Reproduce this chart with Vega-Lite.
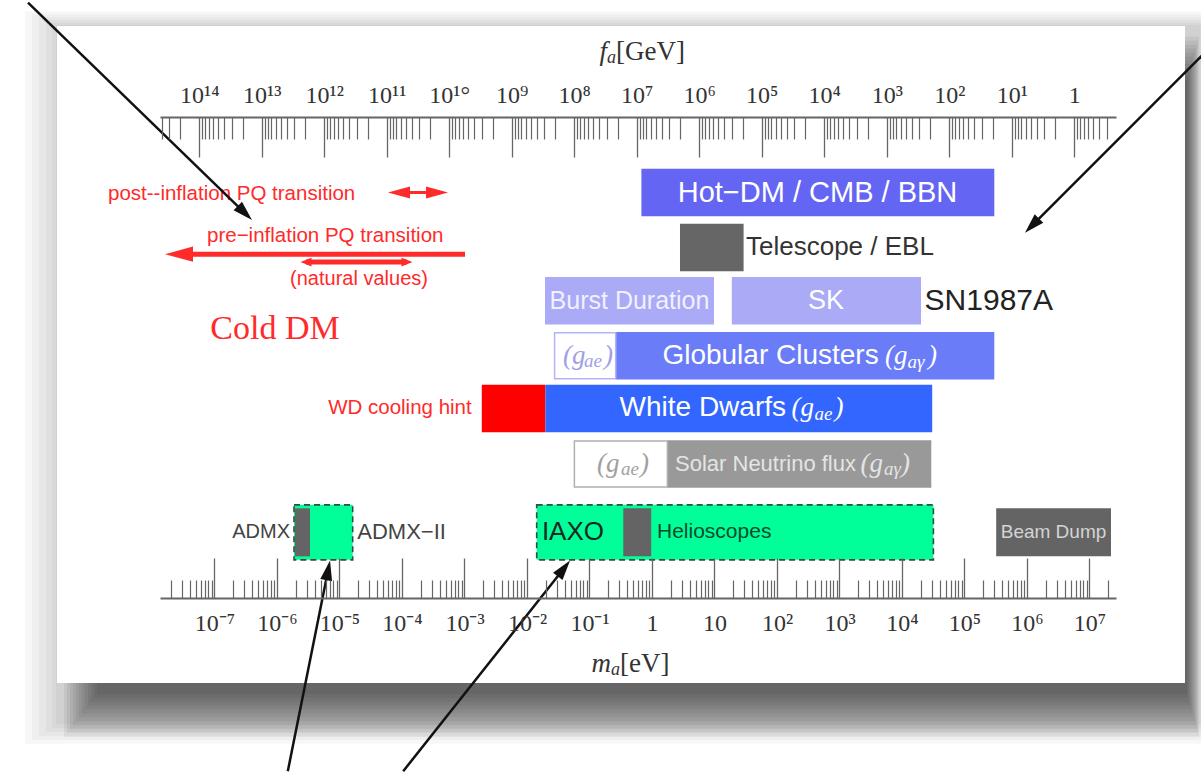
{
"$schema":"https://vega.github.io/schema/vega-lite/v6.json",
"width":956,"height":481,
"autosize":{"type":"none"},
"padding":{"left":160,"top":117,"right":85,"bottom":174},
"background":"#ffffff",
"config":{"view":{"stroke":null},"axis":{"grid":false}},
"resolve":{"axis":{"x":"independent","y":"independent"}},
"encoding":{
 "x":{"field":"m","type":"quantitative","scale":{"type":"log","domain":[1.343e-8,2.655e7],"nice":false},"axis":null},
 "y":{"field":"u","type":"quantitative","scale":{"type":"linear","domain":[-0.309,8.436],"nice":false,"zero":false,"reverse":true},"axis":null}
},
"layer":[
{"data":{"values":[
 {"m":9.29e-11,"m2":6.081e8,"u":-2.364,"u2":11.236},
 {"m":1.202e-10,"m2":6.081e8,"u":-2.309,"u2":11.164},
 {"m":1.556e-10,"m2":6.081e8,"u":-2.255,"u2":11.091},
 {"m":2.014e-10,"m2":6.081e8,"u":-2.2,"u2":11.018},
 {"m":2.512e-10,"m2":6.081e8,"u":-2.145,"u2":10.945},
 {"m":2.911e-10,"m2":6.081e8,"u":-2.109,"u2":10.873}
 ]},
 "mark":{"type":"rect","fill":"#000000","fillOpacity":0.03,"clip":false},
 "encoding":{
  "x":{"field":"m","type":"quantitative","scale":{"type":"log","domain":[1.343e-8,2.655e7],"nice":false},
   "axis":{"orient":"bottom","values":[1e-7,1e-6,1e-5,1e-4,0.001,0.01,0.1,1,10,100,1000,10000,100000,1000000,10000000],
    "ticks":false,"domain":true,"domainColor":"#666666","domainWidth":2,
    "labelExpr":"datum.value == 1 ? '1' : datum.value == 10 ? '10' : '10' + (datum.value < 1 ? '⁻' : '') + ['°','¹','²','³','⁴','⁵','⁶','⁷','⁸','⁹'][abs(round(log(datum.value) / LN10))]",
    "labelFont":"Liberation Serif","labelFontSize":24,"labelColor":"#333333","labelPadding":13,
    "labelOverlap":false,"labelFlush":false,"labelBound":false,"title":null,"zindex":1}},
  "x2":{"field":"m2"},"y2":{"field":"u2"}}
},
{"data":{"values":[
 {"m":3.908e-10,"m2":5.649e8,"u":-1.891,"u2":11.109},
 {"m":4.365e-10,"m2":5.445e8,"u":-1.818,"u2":11.036},
 {"m":4.875e-10,"m2":5.248e8,"u":-1.745,"u2":10.964},
 {"m":5.445e-10,"m2":5.058e8,"u":-1.673,"u2":10.891},
 {"m":6.081e-10,"m2":4.875e8,"u":-1.6,"u2":10.818},
 {"m":6.792e-10,"m2":4.613e8,"u":-1.527,"u2":10.745},
 {"m":7.586e-10,"m2":4.43e8,"u":-1.455,"u2":10.673},
 {"m":8.472e-10,"m2":4.254e8,"u":-1.382,"u2":10.6},
 {"m":9.462e-10,"m2":4.085e8,"u":-1.309,"u2":10.527},
 {"m":1.057e-9,"m2":3.923e8,"u":-1.236,"u2":10.455},
 {"m":1.18e-9,"m2":3.767e8,"u":-1.164,"u2":10.382},
 {"m":1.318e-9,"m2":3.631e8,"u":-1.091,"u2":10.309}
 ]},
 "mark":{"type":"rect","fill":"#000000","fillOpacity":0.055,"clip":false},
 "encoding":{"x2":{"field":"m2"},"y2":{"field":"u2"}}
},
{"data":{"values":[{"m":3.02e-10,"m2":3.373e8,"u":-2.091,"u2":10.109}]},
 "mark":{"type":"rect","fill":"#ffffff","clip":false},
 "encoding":{
  "x":{"field":"m","type":"quantitative","scale":{"type":"log","domain":[1.343e-8,2.655e7],"nice":false},
   "axis":{"orient":"top","values":[5.7e6,5.7e5,5.7e4,5700,570,57,5.7,0.57,0.057,5.7e-3,5.7e-4,5.7e-5,5.7e-6,5.7e-7,5.7e-8],
    "ticks":false,"domain":true,"domainColor":"#666666","domainWidth":2,
    "labelExpr":"round(log(5700000 / datum.value) / LN10) == 0 ? '1' : '10' + (round(log(5700000 / datum.value) / LN10) >= 10 ? '¹' + ['°','¹','²','³','⁴','⁵','⁶','⁷','⁸','⁹'][round(log(5700000 / datum.value) / LN10) - 10] : ['°','¹','²','³','⁴','⁵','⁶','⁷','⁸','⁹'][round(log(5700000 / datum.value) / LN10)])",
    "labelFont":"Liberation Serif","labelFontSize":24,"labelColor":"#333333","labelPadding":10,
    "labelOverlap":false,"labelFlush":false,"labelBound":false,"title":null,"zindex":1}},
  "x2":{"field":"m2"},"y2":{"field":"u2"}}
},
{"data":{"values":[
 {"m":0.6766,"m2":2.999e5,"u":1.0,"c":"hot"},
 {"m":2.805,"m2":29.21,"u":2.02,"c":"tel"},
 {"m":0.01941,"m2":9.817,"u":3.01,"c":"sn"},
 {"m":18.92,"m2":2.014e4,"u":3.01,"c":"sn"},
 {"m":0.2626,"m2":2.999e5,"u":4.03,"c":"gc"},
 {"m":1.891e-3,"m2":0.0197,"u":5.01,"c":"hint"},
 {"m":0.0197,"m2":3.042e4,"u":5.01,"c":"wd"},
 {"m":1.764,"m2":2.943e4,"u":6.04,"c":"sol"}
 ]},
 "mark":{"type":"bar","height":47.5,"orient":"horizontal"},
 "encoding":{
  "x":{"field":"m","type":"quantitative","scale":{"type":"log","domain":[1.343e-8,2.655e7],"nice":false},
   "axis":{"orient":"bottom","values":[1e-7,1e-6,1e-5,1e-4,0.001,0.01,0.1,1,10,100,1000,10000,100000,1000000,10000000],
    "labels":false,"domain":false,"ticks":true,"tickSize":-40,"tickColor":"#666666","tickWidth":1.3,"title":null,"zindex":1}},
  "x2":{"field":"m2"},
  "color":{"field":"c","type":"nominal","scale":{"domain":["hot","tel","sn","gc","hint","wd","sol"],"range":["#6565f3","#666666","#aaaaf7","#6a7cf7","#ff0000","#3366ff","#999999"]},"legend":null}}
},
{"data":{"values":[
 {"m":0.02764,"m2":0.2626,"u":4.03,"c":"gcw"},
 {"m":0.05733,"m2":1.764,"u":6.04,"c":"solw"}
 ]},
 "mark":{"type":"bar","height":46,"orient":"horizontal","fill":"#ffffff","strokeWidth":1.5},
 "encoding":{
  "x":{"field":"m","type":"quantitative","scale":{"type":"log","domain":[1.343e-8,2.655e7],"nice":false},
   "axis":{"orient":"bottom","values":[2e-8,3e-8,4e-8,5e-8,6e-8,7e-8,8e-8,9e-8,2e-7,3e-7,4e-7,5e-7,6e-7,7e-7,8e-7,9e-7,2e-6,3e-6,4e-6,5e-6,6e-6,7e-6,8e-6,9e-6,2e-5,3e-5,4e-5,5e-5,6e-5,7e-5,8e-5,9e-5,2e-4,3e-4,4e-4,5e-4,6e-4,7e-4,8e-4,9e-4,0.002,0.003,0.004,0.005,0.006,0.007,0.008,0.009,0.02,0.03,0.04,0.05,0.06,0.07,0.08,0.09,0.2,0.3,0.4,0.5,0.6,0.7,0.8,0.9,2,3,4,5,6,7,8,9,20,30,40,50,60,70,80,90,200,300,400,500,600,700,800,900,2000,3000,4000,5000,6000,7000,8000,9000,2e4,3e4,4e4,5e4,6e4,7e4,8e4,9e4,2e5,3e5,4e5,5e5,6e5,7e5,8e5,9e5,2e6,3e6,4e6,5e6,6e6,7e6,8e6,9e6,2e7],
    "labels":false,"domain":false,"ticks":true,"tickSize":-18,"tickColor":"#666666","tickWidth":1.2,"title":null,"zindex":1}},
  "x2":{"field":"m2"},
  "stroke":{"field":"c","type":"nominal","scale":{"domain":["gcw","solw"],"range":["#b4b4f4","#b0b0b0"]},"legend":null}}
},
{"data":{"values":[
 {"m":1.871e-6,"m2":1.626e-5,"u":7.31},
 {"m":0.01429,"m2":3.18e4,"u":7.31}
 ]},
 "mark":{"type":"bar","height":55,"orient":"horizontal","fill":"#00ff99","stroke":"#2f4f3f","strokeWidth":1.6,"strokeDash":[6,4]},
 "encoding":{
  "x":{"field":"m","type":"quantitative","scale":{"type":"log","domain":[1.343e-8,2.655e7],"nice":false},
   "axis":{"orient":"top","values":[5.7e6,5.7e5,5.7e4,5700,570,57,5.7,0.57,0.057,5.7e-3,5.7e-4,5.7e-5,5.7e-6,5.7e-7,5.7e-8],
    "labels":false,"domain":false,"ticks":true,"tickSize":-40,"tickColor":"#666666","tickWidth":1.3,"title":null,"zindex":1}},
  "x2":{"field":"m2"}}
},
{"data":{"values":[
 {"m":1.941e-6,"m2":3.373e-6,"u":7.31},
 {"m":0.3473,"m2":0.971,"u":7.31},
 {"m":3.215e5,"m2":2.208e7,"u":7.31}
 ]},
 "mark":{"type":"bar","height":48,"orient":"horizontal","fill":"#646464"},
 "encoding":{
  "x":{"field":"m","type":"quantitative","scale":{"type":"log","domain":[1.343e-8,2.655e7],"nice":false},
   "axis":{"orient":"top","values":[1.9e7,1.425e7,1.14e7,9.5e6,8.143e6,7.125e6,6.333e6,2.85e6,1.9e6,1.425e6,1.14e6,9.5e5,8.143e5,7.125e5,6.333e5,2.85e5,1.9e5,1.425e5,1.14e5,9.5e4,8.143e4,7.125e4,6.333e4,2.85e4,1.9e4,1.425e4,1.14e4,9500,8143,7125,6333,2850,1900,1425,1140,950,814.3,712.5,633.3,285,190,142.5,114,95,81.43,71.25,63.33,28.5,19,14.25,11.4,9.5,8.143,7.125,6.333,2.85,1.9,1.425,1.14,0.95,0.8143,0.7125,0.6333,0.285,0.19,0.1425,0.114,0.095,0.08143,0.07125,0.06333,0.0285,0.019,0.01425,0.0114,0.0095,0.008143,0.007125,0.006333,2.85e-3,1.9e-3,1.425e-3,1.14e-3,9.5e-4,8.143e-4,7.125e-4,6.333e-4,2.85e-4,1.9e-4,1.425e-4,1.14e-4,9.5e-5,8.143e-5,7.125e-5,6.333e-5,2.85e-5,1.9e-5,1.425e-5,1.14e-5,9.5e-6,8.143e-6,7.125e-6,6.333e-6,2.85e-6,1.9e-6,1.425e-6,1.14e-6,9.5e-7,8.143e-7,7.125e-7,6.333e-7,2.85e-7,1.9e-7,1.425e-7,1.14e-7,9.5e-8,8.143e-8,7.125e-8,6.333e-8,2.85e-8,1.9e-8,1.425e-8],
    "labels":false,"domain":false,"ticks":true,"tickSize":-22,"tickColor":"#666666","tickWidth":1.2,"title":null,"zindex":1}},
  "x2":{"field":"m2"}}
},
{"data":{"values":[{"m":444.6,"u":1.0,"t":"Hot−DM / CMB / BBN"}]},
 "mark":{"type":"text","align":"center","baseline":"middle","font":"Liberation Sans","fontSize":29,"fill":"#ffffff"},
 "encoding":{"text":{"field":"t","type":"nominal"}}},
{"data":{"values":[{"m":608.1,"u":3.01,"t":"SK"}]},
 "mark":{"type":"text","align":"center","baseline":"middle","font":"Liberation Sans","fontSize":27,"fill":"#ffffff"},
 "encoding":{"text":{"field":"t","type":"nominal"}}},
{"data":{"values":[{"m":0.4365,"u":3.01,"t":"Burst Duration"}]},
 "mark":{"type":"text","align":"center","baseline":"middle","font":"Liberation Sans","fontSize":25,"fill":"#f0f0ff"},
 "encoding":{"text":{"field":"t","type":"nominal"}}},
{"data":{"values":[{"m":4239,"u":4.03,"t":"Globular Clusters"},{"m":139.3,"u":5.01,"t":"White Dwarfs"}]},
 "mark":{"type":"text","align":"right","baseline":"middle","font":"Liberation Sans","fontSize":28,"fill":"#ffffff"},
 "encoding":{"text":{"field":"t","type":"nominal"}}},
{"data":{"values":[{"m":1837,"u":6.04,"t":"Solar Neutrino flux"}]},
 "mark":{"type":"text","align":"right","baseline":"middle","font":"Liberation Sans","fontSize":22,"fill":"#e4e4e4"},
 "encoding":{"text":{"field":"t","type":"nominal"}}},
{"data":{"values":[{"m":2.655e6,"u":7.31,"t":"Beam Dump"}]},
 "mark":{"type":"text","align":"center","baseline":"middle","font":"Liberation Sans","fontSize":19,"fill":"#d4d4d4"},
 "encoding":{"text":{"field":"t","type":"nominal"}}},
{"data":{"values":[{"m":31.92,"u":2.02,"t":"Telescope / EBL"}]},
 "mark":{"type":"text","align":"left","baseline":"middle","font":"Liberation Sans","fontSize":26,"fill":"#333333"},
 "encoding":{"text":{"field":"t","type":"nominal"}}},
{"data":{"values":[{"m":2.299e4,"u":3.01,"t":"SN1987A"}]},
 "mark":{"type":"text","align":"left","baseline":"middle","font":"Liberation Sans","fontSize":30,"fill":"#222222"},
 "encoding":{"text":{"field":"t","type":"nominal"}}},
{"data":{"values":[{"m":1.614e-6,"u":7.31,"t":"ADMX"}]},
 "mark":{"type":"text","align":"right","baseline":"middle","font":"Liberation Sans","fontSize":20,"fill":"#444444"},
 "encoding":{"text":{"field":"t","type":"nominal"}}},
{"data":{"values":[{"m":1.927e-5,"u":7.31,"t":"ADMX−II"}]},
 "mark":{"type":"text","align":"left","baseline":"middle","font":"Liberation Sans","fontSize":22,"fill":"#444444"},
 "encoding":{"text":{"field":"t","type":"nominal"}}},
{"data":{"values":[{"m":0.01731,"u":7.31,"t":"IAXO"}]},
 "mark":{"type":"text","align":"left","baseline":"middle","font":"Liberation Sans","fontSize":26,"fill":"#1a2a22"},
 "encoding":{"text":{"field":"t","type":"nominal"}}},
{"data":{"values":[{"m":1.202,"u":7.31,"t":"Helioscopes"}]},
 "mark":{"type":"text","align":"left","baseline":"middle","font":"Liberation Sans","fontSize":21,"fill":"#0b4a2b"},
 "encoding":{"text":{"field":"t","type":"nominal"}}},
{"data":{"values":[{"m":5346,"u":4.03,"t":"(g","p":"main"},{"m":1.23e4,"u":4.14,"t":"aγ","p":"sub"},{"m":2.6e4,"u":4.03,"t":")","p":"main"}]},
 "mark":{"type":"text","align":"left","baseline":"middle","font":"Liberation Serif","fontStyle":"italic","fill":"#ffffff"},
 "encoding":{"text":{"field":"t","type":"nominal"},"size":{"field":"p","type":"nominal","scale":{"domain":["main","sub"],"range":[27,19]},"legend":null}}},
{"data":{"values":[{"m":171.2,"u":5.01,"t":"(g","p":"main"},{"m":400,"u":5.12,"t":"ae","p":"sub"},{"m":830,"u":5.01,"t":")","p":"main"}]},
 "mark":{"type":"text","align":"left","baseline":"middle","font":"Liberation Serif","fontStyle":"italic","fill":"#ffffff"},
 "encoding":{"text":{"field":"t","type":"nominal"},"size":{"field":"p","type":"nominal","scale":{"domain":["main","sub"],"range":[27,19]},"legend":null}}},
{"data":{"values":[{"m":2176,"u":6.04,"t":"(g","p":"main"},{"m":5152,"u":6.13,"t":"aγ","p":"sub"},{"m":9638,"u":6.04,"t":")","p":"main"}]},
 "mark":{"type":"text","align":"left","baseline":"middle","font":"Liberation Serif","fontStyle":"italic","fill":"#e4e4e4"},
 "encoding":{"text":{"field":"t","type":"nominal"},"size":{"field":"p","type":"nominal","scale":{"domain":["main","sub"],"range":[22,15]},"legend":null}}},
{"data":{"values":[{"m":0.03767,"u":4.03,"t":"(g","p":"main"},{"m":0.08166,"u":4.12,"t":"ae","p":"sub"},{"m":0.1706,"u":4.03,"t":")","p":"main"}]},
 "mark":{"type":"text","align":"left","baseline":"middle","font":"Liberation Serif","fontStyle":"italic","fill":"#a0a0e6"},
 "encoding":{"text":{"field":"t","type":"nominal"},"size":{"field":"p","type":"nominal","scale":{"domain":["main","sub"],"range":[19,13]},"legend":null}}},
{"data":{"values":[{"m":0.1318,"u":6.04,"t":"(g","p":"main"},{"m":0.3192,"u":6.13,"t":"ae","p":"sub"},{"m":0.6427,"u":6.04,"t":")","p":"main"}]},
 "mark":{"type":"text","align":"left","baseline":"middle","font":"Liberation Serif","fontStyle":"italic","fill":"#a0a0a0"},
 "encoding":{"text":{"field":"t","type":"nominal"},"size":{"field":"p","type":"nominal","scale":{"domain":["main","sub"],"range":[20,14]},"legend":null}}},
{"data":{"values":[{"m":1.977e-9,"u":1.036,"t":"post--inflation PQ transition"},{"m":7.586e-8,"u":1.8,"t":"pre−inflation PQ transition"}]},
 "mark":{"type":"text","align":"left","baseline":"middle","font":"Liberation Sans","fontSize":20.5,"fill":"#ff2a2a","clip":false},
 "encoding":{"text":{"field":"t","type":"nominal"}}},
{"data":{"values":[{"m":2.051e-5,"u":2.6,"t":"(natural values)"}]},
 "mark":{"type":"text","align":"center","baseline":"middle","font":"Liberation Sans","fontSize":20,"fill":"#ff2a2a"},
 "encoding":{"text":{"field":"t","type":"nominal"}}},
{"data":{"values":[{"m":1.304e-3,"u":5.01,"t":"WD cooling hint"}]},
 "mark":{"type":"text","align":"right","baseline":"middle","font":"Liberation Sans","fontSize":20.5,"fill":"#ff2a2a"},
 "encoding":{"text":{"field":"t","type":"nominal"}}},
{"data":{"values":[{"m":9.29e-7,"u":3.527,"t":"Cold DM"}]},
 "mark":{"type":"text","align":"center","baseline":"middle","font":"Liberation Serif","fontSize":34,"fill":"#ff2a2a"},
 "encoding":{"text":{"field":"t","type":"nominal"}}},
{"data":{"values":[{"m":0.1905,"u":-1.61,"t":"f"},{"m":0.2208,"u":9.75,"t":"m"}]},
 "mark":{"type":"text","align":"right","baseline":"middle","font":"Liberation Serif","fontStyle":"italic","fontSize":27,"fill":"#333333","clip":false},
 "encoding":{"text":{"field":"t","type":"nominal"}}},
{"data":{"values":[{"m":0.1905,"u":-1.49,"t":"a"},{"m":0.2208,"u":9.87,"t":"a"}]},
 "mark":{"type":"text","align":"left","baseline":"middle","font":"Liberation Serif","fontStyle":"italic","fontSize":18,"fill":"#333333","clip":false},
 "encoding":{"text":{"field":"t","type":"nominal"}}},
{"data":{"values":[{"m":0.2655,"u":-1.61,"t":"[GeV]"},{"m":0.3076,"u":9.75,"t":"[eV]"}]},
 "mark":{"type":"text","align":"left","baseline":"middle","font":"Liberation Serif","fontSize":27,"fill":"#333333","clip":false},
 "encoding":{"text":{"field":"t","type":"nominal"}}},
{"data":{"values":[{"m":7.727e-5,"m2":4.207e-4,"u":1.0}]},
 "mark":{"type":"rule","color":"#ff2a2a","strokeWidth":3},
 "encoding":{"x2":{"field":"m2"}}},
{"data":{"values":[{"m":2.704e-8,"m2":1.019e-3,"u":2.145}]},
 "mark":{"type":"rule","color":"#ff2a2a","strokeWidth":5},
 "encoding":{"x2":{"field":"m2"}}},
{"data":{"values":[{"m":2.911e-6,"m2":1.202e-4,"u":2.291}]},
 "mark":{"type":"rule","color":"#ff2a2a","strokeWidth":5},
 "encoding":{"x2":{"field":"m2"}}},
{"data":{"values":[{"m":2.704e-8,"u":2.145}]},
 "mark":{"type":"point","shape":"M-1,0L1,-0.54L1,0.54Z","size":784,"filled":true,"color":"#ff2a2a","opacity":1,"strokeWidth":0},
 "encoding":{}},
{"data":{"values":[{"m":8.954e-5,"u":1.0}]},
 "mark":{"type":"point","shape":"M-1,0L1,-0.55L1,0.55Z","size":484,"filled":true,"color":"#ff2a2a","opacity":1,"strokeWidth":0},
 "encoding":{}},
{"data":{"values":[{"m":3.631e-4,"u":1.0}]},
 "mark":{"type":"point","shape":"M1,0L-1,-0.55L-1,0.55Z","size":484,"filled":true,"color":"#ff2a2a","opacity":1,"strokeWidth":0},
 "encoding":{}},
{"data":{"values":[{"m":2.911e-6,"u":2.291}]},
 "mark":{"type":"point","shape":"M-1,0L1,-0.8L1,0.8Z","size":121,"filled":true,"color":"#ff2a2a","opacity":1,"strokeWidth":0},
 "encoding":{}},
{"data":{"values":[{"m":1.202e-4,"u":2.291}]},
 "mark":{"type":"point","shape":"M1,0L-1,-0.8L-1,0.8Z","size":121,"filled":true,"color":"#ff2a2a","opacity":1,"strokeWidth":0},
 "encoding":{}},
{"data":{"values":[
 {"m":1.0375e-10,"u":-2.527,"m2":3.064e-7,"u2":1.382},
 {"m":7.311e8,"u":-1.618,"m2":1.202e6,"u2":1.6155},
 {"m":1.489e-6,"u":11.745,"m2":6.571e-6,"u2":8.015},
 {"m":1.0447e-4,"u":11.745,"m2":0.03896,"u2":7.98}
 ]},
 "mark":{"type":"rule","color":"#111111","strokeWidth":2.5,"clip":false},
 "encoding":{"x2":{"field":"m2"},"y2":{"field":"u2"}}},
{"data":{"values":[{"m":3.064e-7,"u":1.382}]},
 "mark":{"type":"point","shape":"M0,-1L0.6,1L-0.6,1Z","size":400,"angle":134.7,"filled":true,"color":"#111111","opacity":1,"strokeWidth":0},
 "encoding":{}},
{"data":{"values":[{"m":1.202e6,"u":1.6155}]},
 "mark":{"type":"point","shape":"M0,-1L0.6,1L-0.6,1Z","size":400,"angle":224.35,"filled":true,"color":"#111111","opacity":1,"strokeWidth":0},
 "encoding":{}},
{"data":{"values":[{"m":6.571e-6,"u":8.015}]},
 "mark":{"type":"point","shape":"M0,-1L0.6,1L-0.6,1Z","size":400,"angle":11.1,"filled":true,"color":"#111111","opacity":1,"strokeWidth":0},
 "encoding":{}},
{"data":{"values":[{"m":0.03896,"u":7.98}]},
 "mark":{"type":"point","shape":"M0,-1L0.6,1L-0.6,1Z","size":400,"angle":37.8,"filled":true,"color":"#111111","opacity":1,"strokeWidth":0},
 "encoding":{}}
]
}
